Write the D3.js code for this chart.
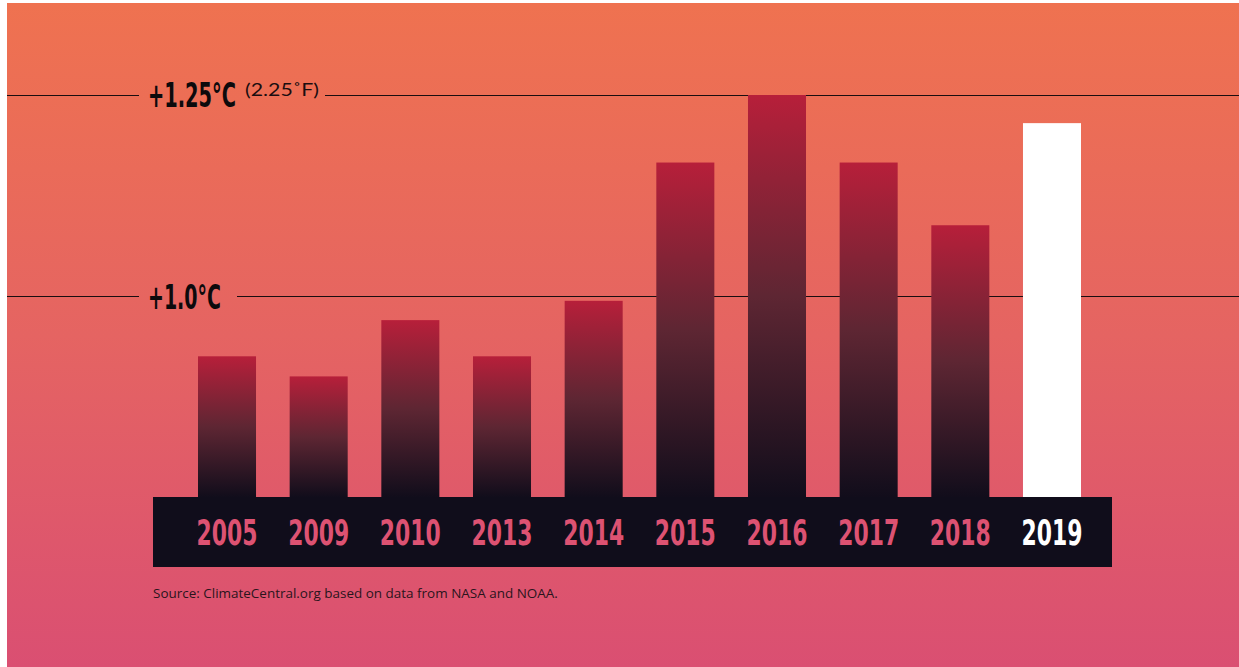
<!DOCTYPE html>
<html>
<head>
<meta charset="utf-8">
<script src="https://cdn.jsdelivr.net/npm/d3@7"></script>
<style>
html,body{margin:0;padding:0;background:#fff;}
svg{display:block;}
</style>
</head>
<body>
<svg id="chart" width="1239" height="667"></svg>
<script>
const years = ["2005","2009","2010","2013","2014","2015","2016","2017","2018","2019"];
const anomalies = [0.925, 0.90, 0.97, 0.925, 0.994, 1.166, 1.25, 1.166, 1.088, 1.215];
const highlightYear = "2019";
const refLevels = [1.25, 1.0];
const refLabels = ["+1.25°C", "+1.0°C"];
const refSubLabels = ["(2.25˚F)", ""];
const sourceText = "Source: ClimateCentral.org based on data from NASA and NOAA.";

const svg = d3.select("#chart");
const defs = svg.append("defs");

const bg = defs.append("linearGradient").attr("id","bg").attr("x1",0).attr("y1",0).attr("x2",0).attr("y2",1);
bg.append("stop").attr("offset","0%").attr("stop-color","#EF7250");
bg.append("stop").attr("offset","50%").attr("stop-color","#E56462");
bg.append("stop").attr("offset","100%").attr("stop-color","#DA4F72");

const bar = defs.append("linearGradient").attr("id","barg").attr("x1",0).attr("y1",0).attr("x2",0).attr("y2",1);
bar.append("stop").attr("offset","0%").attr("stop-color","#B71F3A");
bar.append("stop").attr("offset","50%").attr("stop-color","#5E2633");
bar.append("stop").attr("offset","100%").attr("stop-color","#110D1B");

svg.append("rect").attr("x",7).attr("y",3).attr("width",1232).attr("height",664).attr("fill","url(#bg)");

const y = d3.scaleLinear().domain([0.75, 1.25]).range([497, 95]);
const x = d3.scaleBand().domain(years).range([198, 1081]).paddingInner(0.367).paddingOuter(0);

// helper: fit text horizontally to a width via transform scale
function fitText(sel, left, baseline, targetW){
  const w = sel.node().getComputedTextLength();
  const s = targetW / w;
  sel.attr("x",0).attr("y",0).attr("transform",`translate(${left},${baseline}) scale(${s},1)`);
}

// reference lines
const lineSegs = [
  [[7,139],[325,1239]],
  [[7,139],[237,1239]]
];
refLevels.forEach((lv,i)=>{
  const yy = Math.round(y(lv)) + 0.5;
  lineSegs[i].forEach(s=>{
    svg.append("line").attr("x1",s[0]).attr("x2",s[1]).attr("y1",yy).attr("y2",yy)
      .attr("stroke","#1a0d10").attr("stroke-width",1.2);
  });
});

// bars
svg.selectAll("rect.bar").data(years).enter().append("rect")
  .attr("class","bar")
  .attr("x", d=>x(d))
  .attr("width", x.bandwidth())
  .attr("y", (d,i)=>y(anomalies[i]))
  .attr("height", (d,i)=>y(0.75)-y(anomalies[i]))
  .attr("fill", d=> d===highlightYear ? "#ffffff" : "url(#barg)");

// dark band
svg.append("rect").attr("x",153).attr("y",497).attr("width",959).attr("height",70).attr("fill","#100D1B");

// year labels
svg.selectAll("text.year").data(years).enter().append("text")
  .attr("class","year")
  .attr("text-anchor","start")
  .attr("font-family","'DejaVu Sans Condensed','Liberation Sans Narrow',Roboto,sans-serif")
  .attr("font-weight","bold")
  .attr("font-size",35)
  .attr("fill", d=> d===highlightYear ? "#ffffff" : "#DD5272")
  .text(d=>d)
  .each(function(d){
    const cx = x(d)+x.bandwidth()/2;
    fitText(d3.select(this), cx-30.5, 545, 61);
  });

// reference labels
const labW = [88, 73];
const labBase = [107, 309];
refLevels.forEach((lv,i)=>{
  const t = svg.append("text")
    .attr("font-family","'DejaVu Sans Condensed','Liberation Sans Narrow',Roboto,sans-serif")
    .attr("font-weight","bold").attr("font-size",33)
    .attr("fill","#0d0a0c").text(refLabels[i]);
  fitText(t, 148, labBase[i], labW[i]);
  if(refSubLabels[i]){
    const st = svg.append("text")
      .attr("font-family","Lato,'Open Sans',sans-serif")
      .attr("font-size",17)
      .attr("fill","#1a0d10").text(refSubLabels[i]);
    fitText(st, 245, 96, 74);
  }
});

// source
const src = svg.append("text")
  .attr("font-family","'Open Sans',Lato,sans-serif")
  .attr("font-size",12)
  .attr("fill","#2a141c").text(sourceText);
fitText(src, 153, 598, 405);
</script>
</body>
</html>
